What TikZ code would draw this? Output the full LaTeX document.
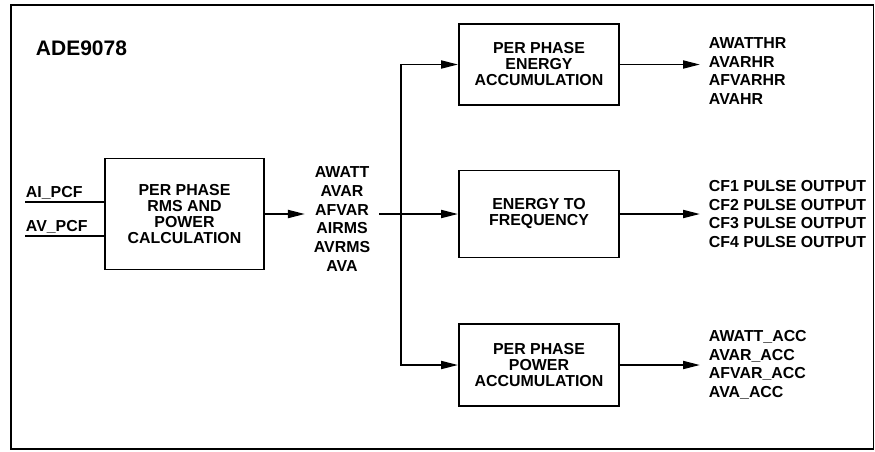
\documentclass[tikz,border=0pt]{standalone}
\usepackage{fontspec}
\setmainfont{Liberation Sans}
\usetikzlibrary{arrows.meta,positioning}

\begin{document}
\begin{tikzpicture}[x=1pt, y=-1pt, line width=1.9pt,
  blk/.style={draw, minimum width=160pt, align=center, inner sep=0pt, font=\fontsize{15.9}{16}\selectfont\bfseries},
  lst/.style={align=left, inner xsep=8pt, inner ysep=0pt, font=\fontsize{15.9}{18.7}\selectfont\bfseries},
  arr/.style={-{Triangle[length=17pt, width=8pt]}}]
\useasboundingbox (0,0) rectangle (875,451);
\draw (11,5) rectangle (873.5,449);
\node[anchor=west, inner sep=0pt, font=\fontsize{21}{24}\selectfont\bfseries] (chip) at (35,48.5) {ADE9078};
% blocks
\node[blk, minimum width=159pt, minimum height=111pt] (calc) at (184.5,214) {PER PHASE\\RMS AND\\POWER\\CALCULATION};
\node[blk, minimum height=81pt] (eacc) at (539,64.5) {PER PHASE\\ENERGY\\ACCUMULATION};
\node[blk, minimum height=87pt] (e2f) at (539,214) {ENERGY TO\\FREQUENCY};
\node[blk, minimum height=82pt] (pacc) at (539,365) {PER PHASE\\POWER\\ACCUMULATION};
% inputs
\coordinate (ai) at (25,202);
\coordinate (av) at (25,236);
\node[lst, inner xsep=0pt, above right=2pt and 0pt of ai] (ailbl) {AI\_PCF};
\node[lst, inner xsep=0pt, above right=2pt and 0pt of av] (avlbl) {AV\_PCF};
\draw (ai) -- (ai -| calc.west);
\draw (av) -- (av -| calc.west);
% measurements and bus
\node[lst, align=center] (meas) at (342,219) {AWATT\\AVAR\\AFVAR\\AIRMS\\AVRMS\\AVA};
\draw[arr] (calc) -- (calc -| meas.west);
\coordinate (bus) at (401,214);
\draw[arr] (meas.east |- e2f) -- (e2f);
\draw[arr] (bus) |- (eacc);
\draw[arr] (bus) |- (pacc);
% outputs
\node[lst, anchor=west] (eout) at (700,71) {AWATTHR\\AVARHR\\AFVARHR\\AVAHR};
\node[lst, anchor=west] (fout) at (700,214) {CF1 PULSE OUTPUT\\CF2 PULSE OUTPUT\\CF3 PULSE OUTPUT\\CF4 PULSE OUTPUT};
\node[lst, anchor=west] (pout) at (700,365) {AWATT\_ACC\\AVAR\_ACC\\AFVAR\_ACC\\AVA\_ACC};
\draw[arr] (eacc) -- (eacc -| eout.west);
\draw[arr] (e2f) -- (e2f -| fout.west);
\draw[arr] (pacc) -- (pacc -| pout.west);
\end{tikzpicture}
\end{document}
